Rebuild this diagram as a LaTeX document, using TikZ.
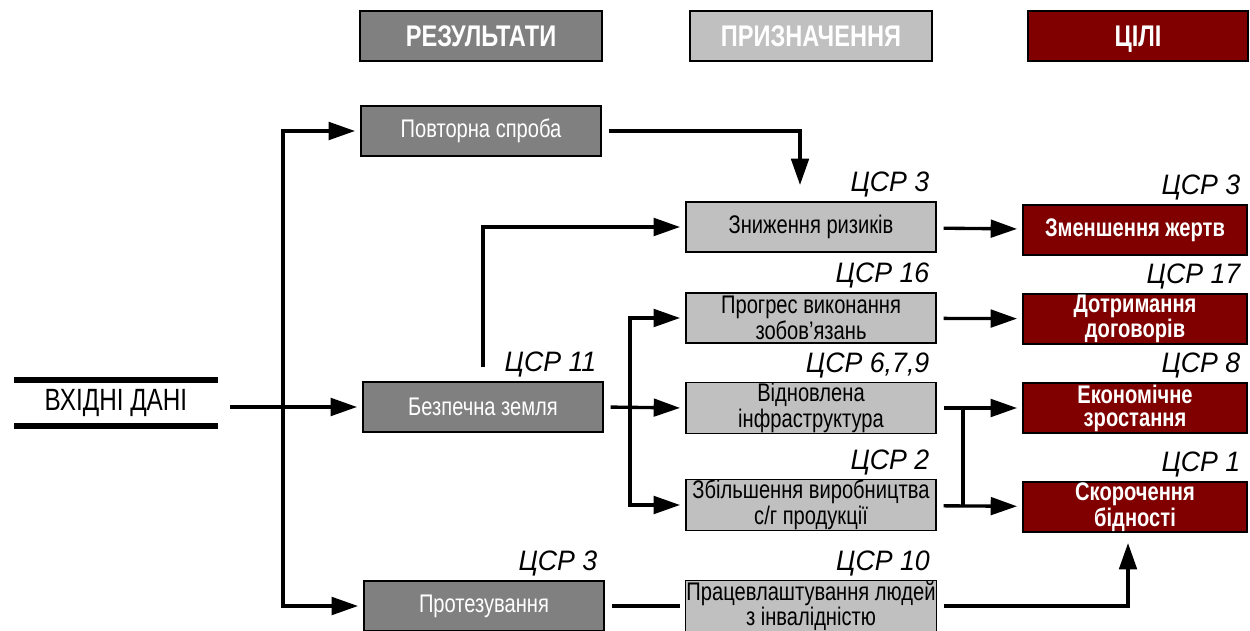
\documentclass[tikz,border=0pt]{standalone}
\usepackage{fontspec}
\setmainfont{Liberation Sans}[FakeStretch=0.79]
\newfontfamily\sdgfont{Liberation Sans}[FakeStretch=0.95]
\usetikzlibrary{arrows.meta}
\definecolor{resGrey}{HTML}{808080}
\definecolor{purGrey}{HTML}{C0C0C0}
\definecolor{goalRed}{HTML}{800000}

\begin{document}
\begin{tikzpicture}
[x=0.02cm,y=-0.02cm,%
  boxDecorate/.style={draw,line width=0.8pt,minimum height=1cm,inner sep=0.5pt,align=center,font=\fontsize{14.5}{13}\selectfont},%
  resDecorate/.style={boxDecorate,fill=resGrey,text=white,minimum width=4.8cm},%
  purDecorate/.style={boxDecorate,fill=purGrey,minimum width=5cm},%
  goalDecorate/.style={boxDecorate,fill=goalRed,text=white,minimum width=4.48cm,font=\fontsize{14.5}{13}\selectfont\bfseries},%
  headDecorate/.style={draw,line width=0.8pt,minimum height=1cm,text height=12.2pt,text depth=0pt,text=white,font=\fontsize{17}{17}\selectfont\bfseries},%
  sdgDecorate/.style={anchor=south east,inner sep=2pt,xshift=-2pt,font=\fontsize{16}{16}\sdgfont\itshape},%
  lineDecorate/.style={-{Triangle[length=15pt,width=10pt]},line width=1.9pt,shorten >=3pt,shorten <=4pt},%
  plainDecorate/.style={-,line width=1.9pt}]
\useasboundingbox (0,0) rectangle (1250,631);
%% headers
\node (hRes) at (481,36) [headDecorate,fill=resGrey,minimum width=4.84cm] {РЕЗУЛЬТАТИ};
\node (hPur) at (811,36) [headDecorate,fill=purGrey,minimum width=4.84cm] {ПРИЗНАЧЕННЯ};
\node (hGoal) at (1138,36) [headDecorate,fill=goalRed,minimum width=4.4cm] {ЦІЛІ};
%% input
\node (in) at (116,403) [minimum width=4.06cm,minimum height=0.9cm,font=\fontsize{17.5}{17}\selectfont] {ВХІДНІ ДАНІ};
\draw[line width=3.4pt] (in.north west) -- (in.north east);
\draw[line width=3.4pt] (in.south west) -- (in.south east);
%% results
\foreach \nodename/\x/\y/\txt in {
  pov/481/131/{Повторна спроба}, bez/483/407/{Безпечна земля},
  prot/484/606/{Протезування}}
{
  \node (\nodename) at (\x,\y) [resDecorate] {\txt};
}
%% purposes
\foreach \nodename/\x/\y/\txt in {
  znyzh/811/227/{Зниження ризиків}, prog/811/318/{Прогрес виконання\\зобов’язань},
  vidn/811/408/{Відновлена\\інфраструктура}, zbil/811/505/{Збільшення виробництва\\{с/г} продукції},
  prac/811/606/{Працевлаштування людей\\з інвалідністю}}
{
  \node (\nodename) at (\x,\y) [purDecorate] {\txt};
}
%% goals
\foreach \nodename/\x/\y/\txt in {
  zmen/1135/230/{Зменшення жертв}, dotr/1135/319/{Дотримання\\договорів},
  ekon/1135/408/{Економічне\\зростання}, skor/1135/507/{Скорочення\\бідності}}
{
  \node (\nodename) at (\x,\y) [goalDecorate] {\txt};
}
%% SDG labels
\foreach \nodename/\num in {
  bez/11, prot/3, znyzh/3, prog/16, vidn/{6,7,9}, zbil/2, prac/10,
  zmen/3, dotr/17, ekon/8, skor/1}
{
  \node (sdg-\nodename) at (\nodename.north east) [sdgDecorate] {ЦСР \num};
}
%% junctions
\coordinate (split) at (283,407);
\coordinate (retry) at (800,185);
\coordinate (branch) at (630,407);
\coordinate (jTop) at (963,408);
\coordinate (jBot) at (963,505);
\coordinate (lift) at (1128,543);
%% connectors
\draw[lineDecorate,shorten <=7pt] (in.east |- bez.west) -- (bez.west);
\draw[lineDecorate,shorten <=0pt] (split) |- (pov.west);
\draw[lineDecorate,shorten <=0pt] (split) |- (prot.west);
\draw[lineDecorate,shorten >=0pt] (pov.east) -| (retry);
\draw[lineDecorate,shorten <=8pt] (bez.north) |- (znyzh.west);
\draw[lineDecorate] (bez.east) -- (vidn.west);
\draw[lineDecorate,shorten <=0pt] (branch) |- (prog.west);
\draw[lineDecorate,shorten <=0pt] (branch) |- (zbil.west);
\path
\foreach \startnode/\endnode in {znyzh/zmen, prog/dotr, vidn/ekon, zbil/skor}
{
  (\startnode) edge[lineDecorate] (\endnode)
};
\draw[plainDecorate] (jTop) -- (jBot);
\draw[plainDecorate,shorten <=4pt,shorten >=3pt] (prot.east) -- (prac.west);
\draw[lineDecorate,shorten >=0pt] (prac.east) -| (lift);
\end{tikzpicture}
\end{document}
